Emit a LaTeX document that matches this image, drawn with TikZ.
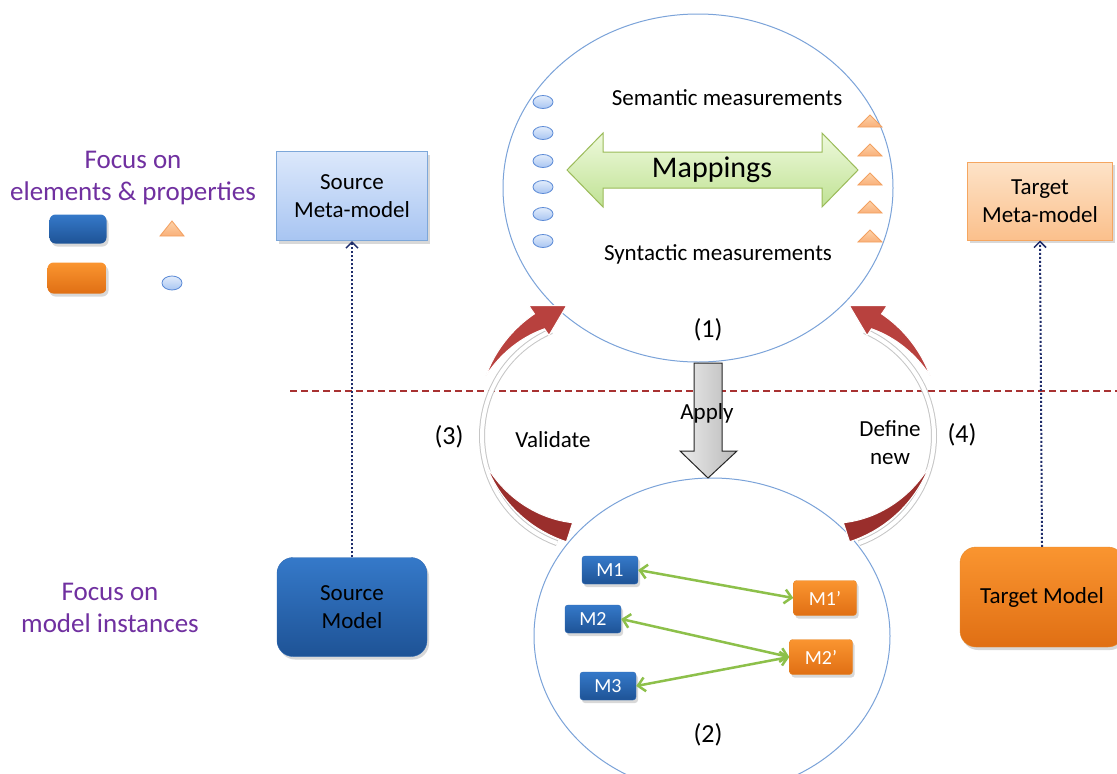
\documentclass[tikz,border=0pt]{standalone}
\usepackage{fontspec}
\setmainfont{Carlito}
\usetikzlibrary{arrows.meta,shadows}
\definecolor{circ}{HTML}{7BA3D9}
\definecolor{purp}{HTML}{7030A0}
\definecolor{navy}{HTML}{1F2D6B}
\definecolor{mgreen}{HTML}{8DC04A}
\definecolor{redA}{HTML}{B8413E}
\definecolor{redB}{HTML}{9A2E2C}
\definecolor{dblueT}{HTML}{3579C9}
\definecolor{dblueB}{HTML}{1E5396}
\definecolor{dblueD}{HTML}{2E69B3}
\definecolor{orT}{HTML}{FA9530}
\definecolor{orB}{HTML}{E06F14}
\definecolor{orD}{HTML}{E58A2E}
\definecolor{lblueT}{HTML}{DCE8FB}
\definecolor{lblueB}{HTML}{A8C5F2}
\definecolor{lblueD}{HTML}{7DA7D9}
\definecolor{lorT}{HTML}{FDE3C8}
\definecolor{lorB}{HTML}{FBC08C}
\definecolor{lorD}{HTML}{F5A660}
\definecolor{ellT}{HTML}{E2ECFB}
\definecolor{ellB}{HTML}{A9C6F2}
\definecolor{ellD}{HTML}{5B8AD6}
\definecolor{triT}{HTML}{FDD2A8}
\definecolor{triB}{HTML}{F9B07A}
\definecolor{triD}{HTML}{F3A060}
\definecolor{mapT}{HTML}{EEF9DC}
\definecolor{mapB}{HTML}{C0E294}
\definecolor{mapD}{HTML}{9BBB59}
\definecolor{sepred}{HTML}{A83232}
\begin{document}
\begin{tikzpicture}[x=1pt,y=-1pt,
  txt/.style={font=\fontsize{23}{28}\selectfont, align=center, inner sep=0pt},
  ptxt/.style={font=\fontsize{27}{32}\selectfont, align=center, inner sep=0pt, text=purp},
  numtxt/.style={font=\fontsize{26}{30}\selectfont, inner sep=0pt},
  shadowed/.style={drop shadow={opacity=0.3, shadow xshift=2pt, shadow yshift=-3pt}},
  lbluebox/.style={draw=lblueD, line width=1pt, top color=lblueT, bottom color=lblueB, shadowed,
     minimum width=151pt, minimum height=89pt, txt},
  lorbox/.style={draw=lorD, line width=1pt, top color=lorT, bottom color=lorB, shadowed,
     minimum width=145pt, minimum height=78pt, txt},
  bigblue/.style={rounded corners=16pt, top color=dblueT, bottom color=dblueB, draw=dblueD, shadowed,
     minimum width=150pt, minimum height=99pt, txt},
  bigor/.style={rounded corners=16pt, top color=orT, bottom color=orB, draw=orD, shadowed,
     minimum width=164pt, minimum height=100pt, txt},
  mblue/.style={rounded corners=3pt, top color=dblueT, bottom color=dblueB, draw=dblueD, text=white,
     font=\fontsize{20}{24}\selectfont, minimum width=56pt, minimum height=28pt, inner sep=0pt, shadowed},
  mor/.style={rounded corners=3pt, top color=orT, bottom color=orB, draw=orD, text=white,
     font=\fontsize{20}{24}\selectfont, minimum width=63pt, minimum height=35pt, inner sep=0pt, shadowed},
  dotarrow/.style={draw=navy, dotted, line width=2pt, -{Straight Barb[length=6pt,width=12pt,line width=1.5pt]}},
  maparrow/.style={draw=mgreen, line width=2.5pt, {Straight Barb[length=7pt,width=14pt]}-{Straight Barb[length=7pt,width=14pt]}},
  smallell/.style={draw=ellD, line width=0.8pt, top color=ellT, bottom color=ellB},
  smalltri/.style={draw=triD, line width=0.8pt, top color=triT, bottom color=triB},
  ribbon/.style={draw=gray!45, line width=6pt},
  ribbonin/.style={draw=white, line width=4pt}
]
\useasboundingbox (0,0) rectangle (1117,774);
\clip (0,0) rectangle (1117,774);
\fill[white] (0,0) rectangle (1117,774);

% dashed separator
\draw[sepred, line width=1.5pt, dash pattern=on 7pt off 4pt] (290,391) -- (1117,391);

% big circles
\draw[circ, line width=1pt] (698,188) ellipse [x radius=195pt, y radius=174pt];
\draw[circ, line width=1pt] (712,636) ellipse [x radius=178pt, y radius=158pt];

% legend
\node[ptxt] (focus1) at (133,178) {Focus on\\elements \& properties};
\node[rounded corners=6pt, top color=dblueT, bottom color=dblueB, minimum width=57pt, minimum height=29pt, shadowed] (legb) at (78,229) {};
\node[rounded corners=6pt, top color=orT, bottom color=orB, minimum width=59pt, minimum height=31pt, shadowed] (lego) at (77,278) {};
\shade[smalltri] (160,236) -- (172,221) -- (184,236) -- cycle;
\shade[smallell] (172,283) ellipse [x radius=10pt, y radius=7pt];
\node[ptxt] (focus2) at (110,608) {Focus on\\model instances};

% source side
\node[lbluebox] (smm) at (352,196) {Source\\Meta-model};
\node[bigblue] (sm) at (352,607) {Source\\Model};
\draw[dotarrow] (sm.north) -- (smm.south);

% target side
\node[lorbox] (tmm) at (1040,201) {Target\\Meta-model};
\node[bigor] (tm) at (1042,597) {Target Model};
\draw[dotarrow] (tm.north) -- (tmm.south);

% top circle content
\node[txt] (sem) at (727,98) {Semantic measurements};
\node[txt] (syn) at (718,254) {Syntactic measurements};
\shade[top color=mapT, bottom color=mapB, draw=mapD, line width=1pt]
  (567,170) -- (603,133) -- (603,152) -- (822,152) -- (822,133) -- (858,170)
  -- (822,207) -- (822,188) -- (603,188) -- (603,207) -- cycle;
\node[font=\fontsize{30}{34}\selectfont, inner sep=0pt] (map) at (712,170) {Mappings};
\foreach \yy in {102,133,161,187,214,241}
  \shade[smallell] (543,\yy) ellipse [x radius=10pt, y radius=6.5pt];
\foreach \yy in {121,150,179,207,236}
  \shade[smalltri] (858,\yy+6) -- (870,\yy-6) -- (882,\yy+6) -- cycle;
\node[numtxt] (n1) at (708,330) {(1)};

% apply arrow
\shade[left color=gray!15, right color=gray!55, draw=gray!30!black, line width=1pt]
  (694,363) -- (722,363) -- (722,451) -- (737,451) -- (708,478) -- (680,451) -- (694,451) -- cycle;
\node[txt] (apply) at (707,413) {Apply};

% left curved arrow
\draw[ribbon] plot[domain=113:250, variable=\t, samples=40] ({596+114*cos(\t)},{436-114*sin(\t)});
\draw[ribbonin] plot[domain=113:250, variable=\t, samples=40] ({596+114*cos(\t)},{436-114*sin(\t)});
\fill[redA, draw=white, line width=1pt]
  plot[domain=160:124, variable=\t, samples=25] ({606+128*cos(\t)},{420-128*sin(\t)})
  -- ({606+138*cos(124)},{420-138*sin(124)})
  -- ({606+121*cos(109)},{420-121*sin(109)})
  -- ({606+102*cos(124)},{420-102*sin(124)})
  -- plot[domain=124:160, variable=\t, samples=25] ({606+(110+18*(\t-124)/36)*cos(\t)},{420-(110+18*(\t-124)/36)*sin(\t)})
  -- cycle;
\fill[redB, draw=white, line width=1pt]
  plot[domain=201:252, variable=\t, samples=25] ({606+128*cos(\t)},{420-128*sin(\t)})
  -- plot[domain=252:201, variable=\t, samples=25] ({606+(128-20*(\t-201)/51)*cos(\t)},{420-(128-20*(\t-201)/51)*sin(\t)})
  -- cycle;

% right curved arrow (mirror)
\begin{scope}[shift={(1416,0)}, xscale=-1]
\draw[ribbon] plot[domain=113:250, variable=\t, samples=40] ({596+114*cos(\t)},{436-114*sin(\t)});
\draw[ribbonin] plot[domain=113:250, variable=\t, samples=40] ({596+114*cos(\t)},{436-114*sin(\t)});
\fill[redA, draw=white, line width=1pt]
  plot[domain=160:124, variable=\t, samples=25] ({606+128*cos(\t)},{420-128*sin(\t)})
  -- ({606+138*cos(124)},{420-138*sin(124)})
  -- ({606+121*cos(109)},{420-121*sin(109)})
  -- ({606+102*cos(124)},{420-102*sin(124)})
  -- plot[domain=124:160, variable=\t, samples=25] ({606+(110+18*(\t-124)/36)*cos(\t)},{420-(110+18*(\t-124)/36)*sin(\t)})
  -- cycle;
\fill[redB, draw=white, line width=1pt]
  plot[domain=201:252, variable=\t, samples=25] ({606+128*cos(\t)},{420-128*sin(\t)})
  -- plot[domain=252:201, variable=\t, samples=25] ({606+(128-20*(\t-201)/51)*cos(\t)},{420-(128-20*(\t-201)/51)*sin(\t)})
  -- cycle;
\end{scope}

\node[numtxt] (n3) at (449,437) {(3)};
\node[txt] (val) at (553,440) {Validate};
\node[txt] (def) at (890,443) {Define\\new};
\node[numtxt] (n4) at (962,435) {(4)};

% bottom circle content
\node[mblue] (m1) at (610,570) {M1};
\node[mblue] (m2) at (593,619) {M2};
\node[mblue] (m3) at (608,686) {M3};
\node[mor] (m1p) at (825,598) {M1’};
\node[mor] (m2p) at (821,657) {M2’};
\draw[maparrow] (m1.east) -- (m1p.west);
\draw[maparrow] (m2.east) -- (m2p.west);
\draw[maparrow] (m3.east) -- (m2p.west);
\node[numtxt] (n2) at (708,735) {(2)};
\end{tikzpicture}
\end{document}
